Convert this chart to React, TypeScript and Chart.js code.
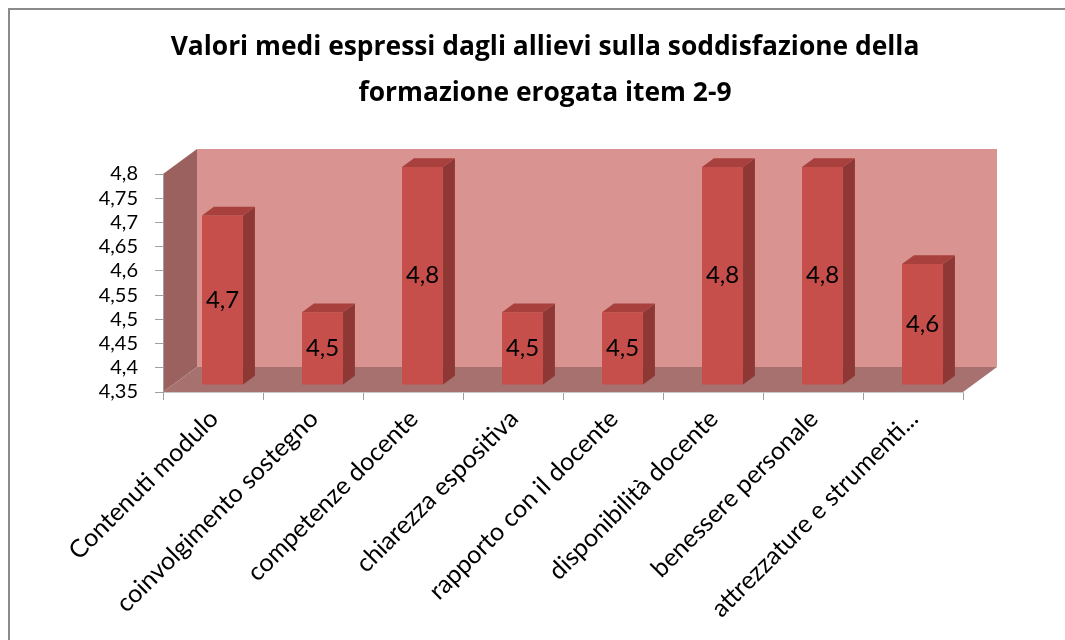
import React, { useEffect, useRef } from "react";
import { Chart, registerables } from "chart.js";

Chart.register(...registerables);

const TITLE_LINES = [
  "Valori medi espressi dagli allievi sulla soddisfazione della",
  "formazione erogata item 2-9",
];
const CATEGORIES = [
  "Contenuti modulo",
  "coinvolgimento sostegno",
  "competenze docente",
  "chiarezza espositiva",
  "rapporto con il docente",
  "disponibilità docente",
  "benessere personale",
  "attrezzature e strumenti...",
];
const VALUES = [4.7, 4.5, 4.8, 4.5, 4.5, 4.8, 4.8, 4.6];
const Y_MIN = 4.35;
const Y_MAX = 4.8;
const Y_STEP = 0.05;

const FONT = "Lato, 'Open Sans', 'DejaVu Sans', sans-serif";
const TITLE_FONT = "'Open Sans', Lato, 'DejaVu Sans', sans-serif";
const TITLE_CENTER_X = 545;
const TITLE_FIRST_Y = 47;
const TITLE_LINE_H = 46;
const DEPTH_X = 34;
const DEPTH_Y = 25;
const BAR_FRONT = 0.28;
const BAR_BACK = 0.63;

const COLORS = {
  backWall: "#d99391",
  sideWall: "#9b615f",
  floor: "#a6716f",
  barFront: "#c64f4b",
  barSide: "#8e3836",
  barTop: "#a8413e",
  axis: "#a0a0a0",
};

const fmt = (v: number) => String(Number(Number(v).toFixed(2))).replace(".", ",");

function poly(ctx: CanvasRenderingContext2D, pts: number[][], fill: string) {
  ctx.beginPath();
  ctx.moveTo(pts[0][0], pts[0][1]);
  for (let i = 1; i < pts.length; i++) ctx.lineTo(pts[i][0], pts[i][1]);
  ctx.closePath();
  ctx.fillStyle = fill;
  ctx.fill();
}

const titlePlugin = {
  id: "centeredTitle",
  afterDraw(chart: any) {
    const ctx = chart.ctx;
    ctx.save();
    ctx.fillStyle = "#000";
    ctx.font = `bold 26.4px ${TITLE_FONT}`;
    ctx.textAlign = "center";
    ctx.textBaseline = "middle";
    TITLE_LINES.forEach((line, i) => {
      ctx.fillText(line, TITLE_CENTER_X, TITLE_FIRST_Y + i * TITLE_LINE_H);
    });
    ctx.restore();
  },
};

const threeD = {
  id: "threeD",
  beforeDraw(chart: any) {
    const { ctx, chartArea: a } = chart;
    ctx.save();
    ctx.fillStyle = COLORS.backWall;
    ctx.fillRect(a.left + DEPTH_X, a.top - DEPTH_Y, a.right - a.left, a.bottom - a.top);
    poly(
      ctx,
      [
        [a.left, a.bottom],
        [a.left, a.top],
        [a.left + DEPTH_X, a.top - DEPTH_Y],
        [a.left + DEPTH_X, a.bottom - DEPTH_Y],
      ],
      COLORS.sideWall
    );
    poly(
      ctx,
      [
        [a.left, a.bottom],
        [a.right, a.bottom],
        [a.right + DEPTH_X, a.bottom - DEPTH_Y],
        [a.left + DEPTH_X, a.bottom - DEPTH_Y],
      ],
      COLORS.floor
    );
    ctx.restore();
  },
  beforeDatasetsDraw(chart: any) {
    const ctx = chart.ctx;
    ctx.save();
    ctx.translate(DEPTH_X * BAR_FRONT, -DEPTH_Y * BAR_FRONT);
  },
  afterDatasetsDraw(chart: any) {
    const ctx = chart.ctx;
    const meta = chart.getDatasetMeta(0);
    const sx = DEPTH_X * (BAR_BACK - BAR_FRONT);
    const sy = DEPTH_Y * (BAR_BACK - BAR_FRONT);
    meta.data.forEach((bar: any, i: number) => {
      const { x, y, base, width } = bar.getProps(["x", "y", "base", "width"], true);
      const l = x - width / 2;
      const r = x + width / 2;
      poly(
        ctx,
        [
          [r, y],
          [r + sx, y - sy],
          [r + sx, base - sy],
          [r, base],
        ],
        COLORS.barSide
      );
      poly(
        ctx,
        [
          [l, y],
          [l + sx, y - sy],
          [r + sx, y - sy],
          [r, y],
        ],
        COLORS.barTop
      );
      ctx.fillStyle = "#000";
      ctx.font = `24px ${FONT}`;
      ctx.textAlign = "center";
      ctx.textBaseline = "middle";
      ctx.fillText(fmt(VALUES[i]), x, (y + base) / 2);
    });
    ctx.restore();
  },
};

export default function App() {
  const ref = useRef<HTMLCanvasElement | null>(null);

  useEffect(() => {
    if (!ref.current) return;
    const chart = new Chart(ref.current, {
      type: "bar",
      data: {
        labels: CATEGORIES,
        datasets: [
          {
            data: VALUES,
            base: Y_MIN,
            backgroundColor: COLORS.barFront,
            borderWidth: 0,
            categoryPercentage: 1,
            barPercentage: 0.41,
            clip: false as any,
          },
        ],
      },
      options: {
        animation: false,
        responsive: false,
        events: [],
        layout: { padding: { left: 0, right: 102, top: 174, bottom: 0 } },
        plugins: {
          legend: { display: false },
          tooltip: { enabled: false },
          title: { display: false },
        },
        scales: {
          x: {
            grid: {
              display: true,
              drawOnChartArea: false,
              tickLength: 8,
              color: COLORS.axis,
              offset: true,
            },
            border: { color: "#c8c8c8" },
            ticks: {
              autoSkip: false,
              minRotation: 45,
              maxRotation: 45,
              color: "#000",
              padding: 4,
              labelOffset: 1,
              font: { family: FONT, size: 25 },
            },
            afterFit: (s: any) => {
              s.height = 248;
            },
          },
          y: {
            min: Y_MIN,
            max: Y_MAX,
            grid: { drawOnChartArea: false, tickLength: 8, color: COLORS.axis },
            border: { color: COLORS.axis },
            ticks: {
              stepSize: Y_STEP,
              autoSkip: false,
              color: "#000",
              padding: 17,
              font: { family: FONT, size: 20 },
              callback: (v: any) => fmt(v),
            },
            afterFit: (s: any) => {
              s.width = 163;
            },
          },
        } as any,
      },
      plugins: [threeD, titlePlugin],
    });
    return () => chart.destroy();
  }, []);

  return (
    <div style={{ position: "fixed", left: 0, top: 0, width: 1065, height: 640, background: "#fff", overflow: "hidden" }}>
      <canvas ref={ref} width={1065} height={640} style={{ display: "block" }} />
      <div
        style={{
          position: "absolute",
          left: 8,
          top: 8,
          width: 1100,
          height: 700,
          borderTop: "2px solid #8a8a8a",
          borderLeft: "2px solid #8a8a8a",
          pointerEvents: "none",
        }}
      />
    </div>
  );
}
